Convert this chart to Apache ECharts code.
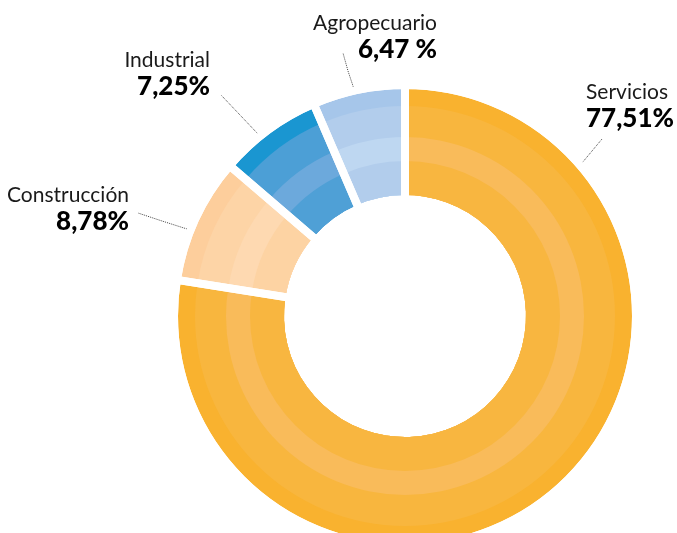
<!DOCTYPE html>
<html>
<head>
<meta charset="utf-8">
<script src="https://cdn.jsdelivr.net/npm/echarts@6/dist/echarts.min.js"></script>
<style>
  html, body { margin: 0; padding: 0; background: #fff; }
  #chart { width: 677px; height: 533px; }
</style>
</head>
<body>
<div id="chart"></div>
<script>
/*** donut of sector shares, drawn as stacked rings **/

var categories = ['Servicios', 'Construcción', 'Industrial', 'Agropecuario'];
var shares = [77.51, 8.78, 7.25, 6.47];
var shareLabels = ['77,51%', '8,78%', '7,25%', '6,47 %'];

// ring bands, outer to inner; each one is painted over the previous
var bands = [
	{ outer: 227, colors: ['#F9B22F', '#FDCE9C', '#1A96D1', '#A6C6EA'] },
	{ outer: 210, colors: ['#F8B63E', '#FDD4A6', '#4C9FD6', '#B2CDEC'] },
	{ outer: 179, colors: ['#F9BB5A', '#FED9B1', '#6CA9DC', '#BED7F1'] },
	{ outer: 155, colors: ['#F8B640', '#FDD3A3', '#4FA0D6', '#B2CDEC'] }
];
var innerRadius = 121;

var center = [405, 316];

// where the labels sit and how their dotted leaders run
var labelPos = {
	'Servicios':    { x: 586, y: 80,  align: 'left',  line: [[582, 163], [592, 151], [602, 139]] },
	'Construcción': { x: 129, y: 183, align: 'right', line: [[187, 229], [162, 221], [138, 213]] },
	'Industrial':   { x: 210, y: 48,  align: 'right', line: [[258, 134], [240, 115], [221, 95]] },
	'Agropecuario': { x: 437, y: 11,  align: 'right', line: [[354, 89], [348, 71], [343, 53]] }
};

function pieData(colors) {
	return categories.map(function (name, i) {
		var item = { name: name, value: shares[i] };
		if (colors) {
			item.itemStyle = { color: colors[i], borderWidth: 0 };
		}
		return item;
	});
}

var series = bands.map(function (b) {
	return {
		type: 'pie',
		center: center,
		radius: [innerRadius, b.outer],
		startAngle: 90,
		clockwise: true,
		silent: true,
		itemStyle: { borderWidth: 0 },
		label: { show: false },
		labelLine: { show: false },
		data: pieData(b.colors)
	};
});

// white strokes to cut the gaps between slices
series.push({
	type: 'pie',
	center: center,
	radius: [116, 231],
	startAngle: 90,
	silent: true,
	label: { show: false },
	labelLine: { show: false },
	itemStyle: { color: 'rgba(0,0,0,0)', borderColor: '#fff', borderWidth: 8 },
	data: pieData()
});

// labels
series.push({
	type: 'pie',
	center: center,
	radius: [innerRadius, 227],
	startAngle: 90,
	silent: true,
	avoidLabelOverlap: false,
	itemStyle: { color: 'rgba(0,0,0,0)', borderWidth: 0 },
	label: {
		show: true,
		position: 'outside',
		formatter: function (p) {
			return '{n|' + p.name + '}\n{v|' + shareLabels[p.dataIndex] + '}';
		},
		rich: {
			n: { fontFamily: 'Lato', fontSize: 21, color: '#1a1a1a', lineHeight: 25 },
			v: { fontFamily: 'Lato', fontSize: 26, fontWeight: 900, color: '#000', lineHeight: 27 }
		}
	},
	labelLine: {
		show: true,
		lineStyle: { color: '#444', width: 1, type: 'dotted' }
	},
	labelLayout: function (params) {
		var c = labelPos[categories[params.dataIndex]];
		return {
			x: c.x,
			y: c.y,
			align: c.align,
			verticalAlign: 'top',
			labelLinePoints: c.line
		};
	},
	data: pieData()
});

var myChart = echarts.init(document.getElementById('chart'));
myChart.setOption({
	animation: false,
	series: series
});
</script>
</body>
</html>
